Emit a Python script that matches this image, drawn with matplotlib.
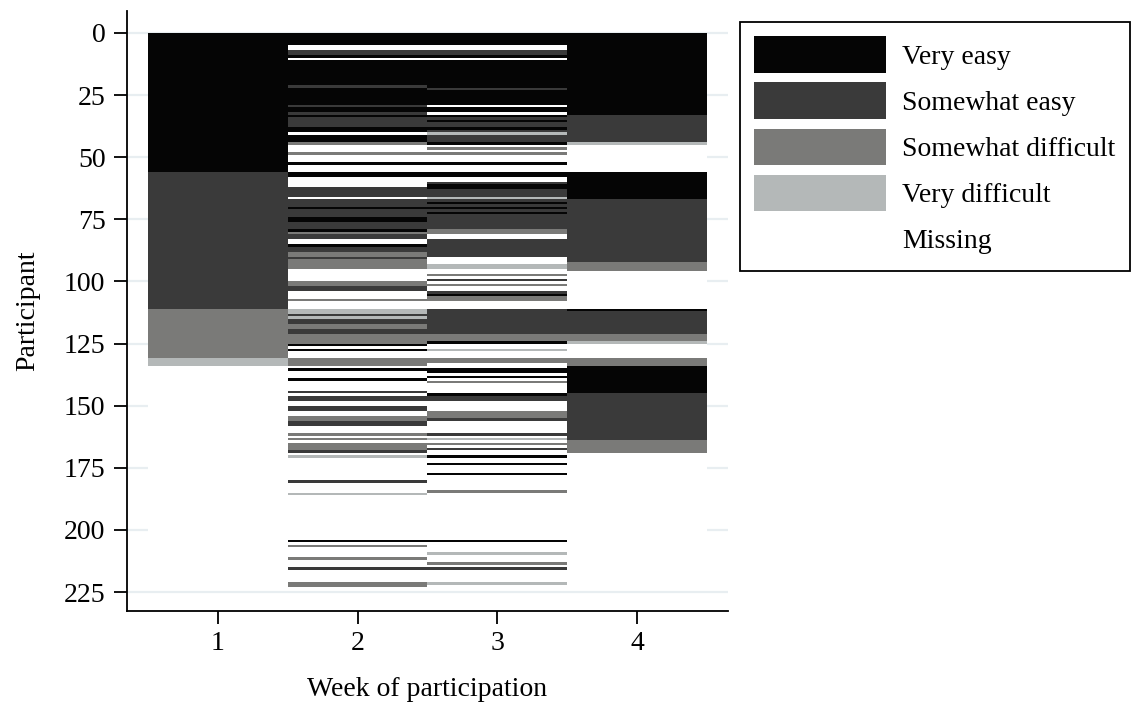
import numpy as np
import matplotlib
matplotlib.use("Agg")
import matplotlib.pyplot as plt
from matplotlib.colors import ListedColormap, BoundaryNorm
from matplotlib.patches import Patch

plt.rcParams['font.family'] = ['Liberation Serif', 'DejaVu Serif']

# ---------------- data ----------------
n_participants = 223
weeks = [1, 2, 3, 4]
# code 0 = Missing, 1..4 = response categories
category_labels = ['Very easy', 'Somewhat easy', 'Somewhat difficult',
                   'Very difficult', 'Missing']
category_codes = [1, 2, 3, 4, 0]
code_colors = ['#ffffff', '#050505', '#3a3a3a', '#7a7a78', '#b4b8b8']

# runs of (first participant row, response code); a run lasts until the next start
week1_runs = [(0, 1), (56, 2), (111, 3), (131, 4), (134, 0)]

week2_runs = [(0, 1), (5, 0), (7, 2), (9, 1), (10, 0), (11, 1), (21, 2), (22, 1),
              (29, 2), (30, 1), (32, 2), (33, 1), (34, 2), (38, 1), (40, 0), (41, 1),
              (44, 3), (45, 0), (48, 3), (49, 0), (52, 1), (53, 0), (56, 1), (58, 0),
              (62, 2), (66, 0), (67, 2), (70, 1), (71, 2), (74, 1), (76, 2), (79, 1),
              (80, 3), (81, 2), (83, 0), (85, 1), (86, 2), (88, 3), (90, 2), (91, 3),
              (95, 0), (100, 3), (102, 2), (104, 0), (107, 3), (108, 0), (111, 4),
              (113, 2), (114, 4), (115, 2), (117, 3), (119, 2), (121, 3), (125, 1),
              (126, 0), (127, 1), (128, 0), (131, 3), (134, 0), (135, 1), (136, 0),
              (139, 1), (140, 0), (144, 2), (145, 0), (146, 2), (148, 0), (150, 2),
              (152, 0), (154, 3), (156, 2), (158, 0), (161, 3), (162, 0), (163, 3),
              (164, 0), (165, 3), (168, 2), (169, 0), (170, 4), (171, 0), (180, 2),
              (181, 0), (185, 4), (186, 0), (204, 1), (205, 0), (206, 3), (207, 0),
              (211, 3), (212, 0), (215, 2), (216, 0), (221, 3)]

week3_runs = [(0, 1), (5, 0), (7, 2), (9, 1), (10, 0), (11, 1), (22, 2), (23, 1),
              (29, 0), (30, 1), (32, 0), (33, 1), (34, 2), (35, 1), (36, 2), (38, 1),
              (39, 2), (40, 4), (41, 2), (44, 1), (45, 0), (46, 3), (47, 0), (48, 3),
              (49, 0), (52, 1), (53, 0), (56, 1), (58, 0), (60, 2), (61, 1), (63, 2),
              (66, 4), (67, 2), (68, 1), (69, 2), (70, 1), (71, 2), (72, 1), (73, 2),
              (79, 3), (81, 0), (83, 2), (90, 0), (93, 4), (95, 0), (97, 3), (98, 0),
              (99, 2), (100, 0), (101, 3), (102, 0), (104, 2), (105, 1), (106, 3),
              (108, 0), (111, 2), (121, 3), (124, 1), (125, 0), (127, 4), (128, 0),
              (131, 3), (133, 0), (135, 1), (137, 0), (138, 1), (139, 0), (140, 3),
              (141, 0), (145, 1), (146, 2), (148, 0), (152, 3), (155, 2), (156, 0),
              (161, 2), (162, 0), (163, 4), (164, 0), (165, 3), (166, 0), (167, 2),
              (168, 0), (170, 1), (171, 0), (173, 1), (174, 0), (177, 1), (178, 0),
              (184, 3), (185, 0), (204, 1), (205, 0), (209, 4), (210, 0), (213, 3),
              (214, 0), (215, 2), (216, 0), (221, 4), (222, 0)]

week4_runs = [(0, 1), (33, 2), (44, 4), (45, 0), (56, 1), (67, 2), (92, 3), (96, 0),
              (111, 1), (112, 2), (121, 3), (124, 4), (125, 0), (131, 3), (134, 1),
              (145, 2), (164, 3), (169, 0)]

y_ticks = [0, 25, 50, 75, 100, 125, 150, 175, 200, 225]


def expand(runs, n):
    out = np.zeros(n, dtype=int)
    starts = [s for s, _ in runs] + [n]
    for (s, c), e in zip(runs, starts[1:]):
        out[s:e] = c
    return out


Z = np.column_stack([expand(r, n_participants)
                     for r in (week1_runs, week2_runs, week3_runs, week4_runs)])

# ---------------- figure ----------------
W, H = 1133, 704
fig = plt.figure(figsize=(W / 100, H / 100), dpi=100)
ax_l, ax_r, ax_t, ax_b = 127, 728, 11, 611
ax = fig.add_axes([ax_l / W, 1 - ax_b / H, (ax_r - ax_l) / W, (ax_b - ax_t) / H])

cmap = ListedColormap(code_colors)
norm = BoundaryNorm(np.arange(-0.5, len(code_colors) + 0.5, 1), len(code_colors))
x_edges = np.concatenate([np.array(weeks) - 0.5, [weeks[-1] + 0.5]])
y_edges = np.arange(n_participants + 1)
ax.pcolormesh(x_edges, y_edges, Z, cmap=cmap, norm=norm, shading='flat',
              antialiased=False, edgecolors='none', zorder=2)

ax.set_xlim(0.35, 4.65)
ax.set_ylim(232.6, -8.8)
ax.set_xticks(weeks)
ax.set_yticks(y_ticks)
ax.yaxis.grid(True, color='#e8eef1', linewidth=1.6)
ax.xaxis.grid(False)
ax.set_axisbelow(True)

for s in ('top', 'right'):
    ax.spines[s].set_visible(False)
for s in ('left', 'bottom'):
    ax.spines[s].set_linewidth(1.3)
    ax.spines[s].set_color('black')

fs = 20
ax.tick_params(axis='both', which='major', labelsize=fs, length=9.5, width=1.3,
               direction='out', colors='black')
ax.tick_params(axis='y', pad=6)
ax.tick_params(axis='x', pad=5)

ax.set_xlabel('Week of participation', fontsize=fs, labelpad=15)
ax.set_ylabel('Participant', fontsize=fs, labelpad=17)

handles = [Patch(facecolor=code_colors[c], edgecolor='none') for c in category_codes]
leg = fig.legend(handles, category_labels, loc='upper left',
                 bbox_to_anchor=(740 / W, 1 - 22 / H), bbox_transform=fig.transFigure,
                 frameon=True, fancybox=False, framealpha=1, edgecolor='black',
                 borderpad=0.52, handlelength=4.72, handleheight=1.62,
                 handletextpad=0.6, labelspacing=0.36, borderaxespad=0,
                 fontsize=fs)
leg.get_frame().set_linewidth(1.3)

fig.savefig('out.png', dpi=100, facecolor='white')
